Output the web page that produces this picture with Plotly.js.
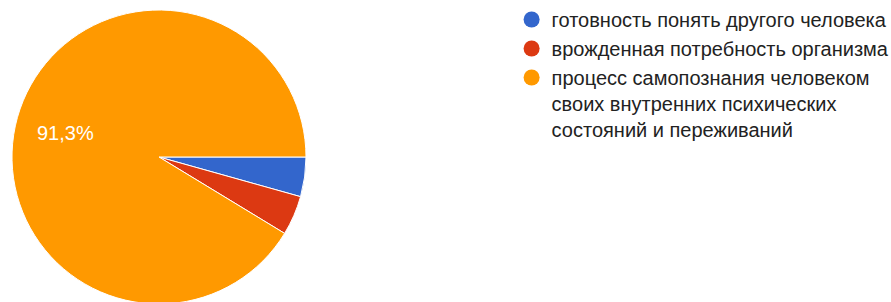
<!DOCTYPE html>
<html><head><meta charset="utf-8">
<script src="https://cdn.plot.ly/plotly-3.0.1.min.js"></script>
<style>html,body{margin:0;padding:0;background:#fff;overflow:hidden;}#chart{width:891px;height:304px;}</style>
</head><body><div id="chart"></div>
<script>
const labels = ["готовность понять другого человека", "врожденная потребность организма", "процесс самопознания человеком своих внутренних психических состояний и переживаний"];
const legendLabels = ["готовность понять другого человека", "врожденная потребность организма", "процесс самопознания человеком<br>своих внутренних психических<br>состояний и переживаний"];
const values = [1, 1, 21];
const colors = ["#3366cc", "#dc3912", "#ff9900"];
const showText = [false, false, true];

const H = 304;
const total = values.reduce((a, b) => a + b, 0);
const bigIdx = showText.indexOf(true);
const bigPct = (values[bigIdx] / total * 100).toFixed(1).replace(".", ",") + "%";

const pie = {
  type: "pie",
  labels: labels,
  values: values,
  sort: false,
  direction: "clockwise",
  rotation: 90,
  marker: {colors: colors, line: {color: "#ffffff", width: 1}},
  textinfo: "none",
  hoverinfo: "label+percent",
  showlegend: false,
  domain: {x: [12/891, 306/891], y: [0, 294/H]}
};

const legendTraces = legendLabels.map((name, i) => ({
  type: "scatter",
  mode: "markers",
  x: [null], y: [null],
  name: name,
  legendgroup: "g" + i,
  marker: {color: colors[i], size: 18, symbol: "circle"},
  hoverinfo: "skip"
}));

const layout = {
  width: 891, height: H,
  margin: {l: 0, r: 0, t: 0, b: 0, autoexpand: false},
  paper_bgcolor: "#ffffff", plot_bgcolor: "#ffffff",
  separators: ",.",
  xaxis: {visible: false, domain: [0.9, 1]},
  yaxis: {visible: false, domain: [0.9, 1]},
  showlegend: true,
  legend: {
    x: 0.5742, y: 1.0, xanchor: "left", yanchor: "top",
    valign: "top",
    font: {size: 20, color: "#222222", family: "Liberation Sans, Arial, sans-serif"},
    tracegroupgap: 0,
    itemwidth: 30,
    bgcolor: "rgba(0,0,0,0)"
  },
  annotations: [{
    xref: "paper", yref: "paper",
    x: 65/891, y: 1 - 133/H,
    xanchor: "center", yanchor: "middle",
    text: bigPct, showarrow: false,
    font: {color: "#ffffff", size: 20, family: "Liberation Sans, Arial, sans-serif"}
  }],
  font: {family: "Liberation Sans, Arial, sans-serif"}
};

Plotly.newPlot("chart", [pie].concat(legendTraces), layout, {displayModeBar: false, staticPlot: true});
</script></body></html>
